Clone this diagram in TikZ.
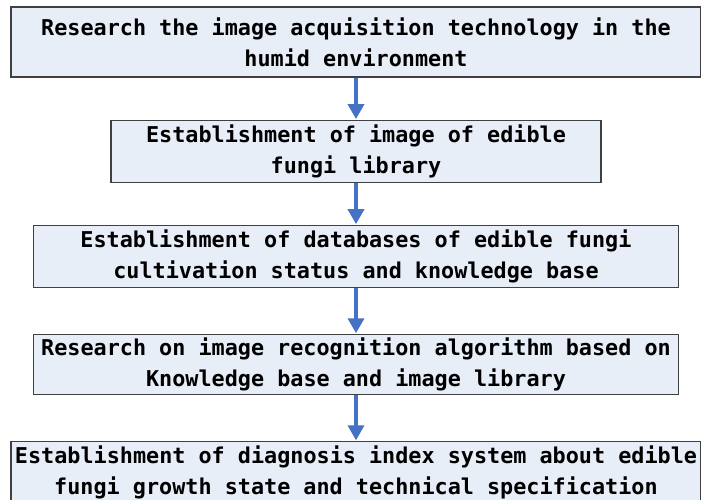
\documentclass[tikz,border=0pt]{standalone}
\usepackage{fontspec}
\setmonofont{DejaVu Sans Mono}
\usepackage{xcolor}
\usepackage{tikz}
\usetikzlibrary{positioning}
\usetikzlibrary{arrows.meta}

\definecolor{boxfill}{HTML}{E8EEF8}
\definecolor{boxline}{HTML}{404040}
\definecolor{arrowblue}{HTML}{4472C4}

\begin{document}
\begin{tikzpicture}[
          x=1pt,y=1pt,
          stepbox/.style={draw=boxline,line width=1.1pt,fill=boxfill,inner sep=0pt,
            align=center,minimum height=62pt,
            font=\ttfamily\bfseries\fontsize{21.8pt}{31pt}\selectfont,
            execute at begin node={\spaceskip=.6em\relax}},
          flow/.style={draw=arrowblue,line width=3.6pt,
            -{Triangle[width=16pt,length=15pt]},shorten >=0.5pt}
          ]

          \useasboundingbox (0,0) rectangle (701,-500);

          \node[stepbox,text width=690pt,minimum height=70pt] (acquire) at (356,-42)
            {Research the image acquisition technology in the\\humid environment};
          \node[stepbox,text width=490pt,below=42pt of acquire] (imagelib)
            {Establishment of image of edible\\fungi library};
          \node[stepbox,text width=645pt,below=42pt of imagelib] (database)
            {Establishment of databases of edible fungi\\cultivation status and knowledge base};
          \node[stepbox,text width=645pt,minimum height=60pt,below=46pt of database] (recognize)
            {Research on image recognition algorithm based on\\Knowledge base and image library};
          \node[stepbox,text width=690pt,below=46pt of recognize] (diagnose)
            {Establishment of diagnosis index system about edible\\fungi growth state and technical specification};

          \draw[flow] (acquire) -- (imagelib);
          \draw[flow] (imagelib) -- (database);
          \draw[flow] (database) -- (recognize);
          \draw[flow] (recognize) -- (diagnose);
        \end{tikzpicture}
\end{document}
